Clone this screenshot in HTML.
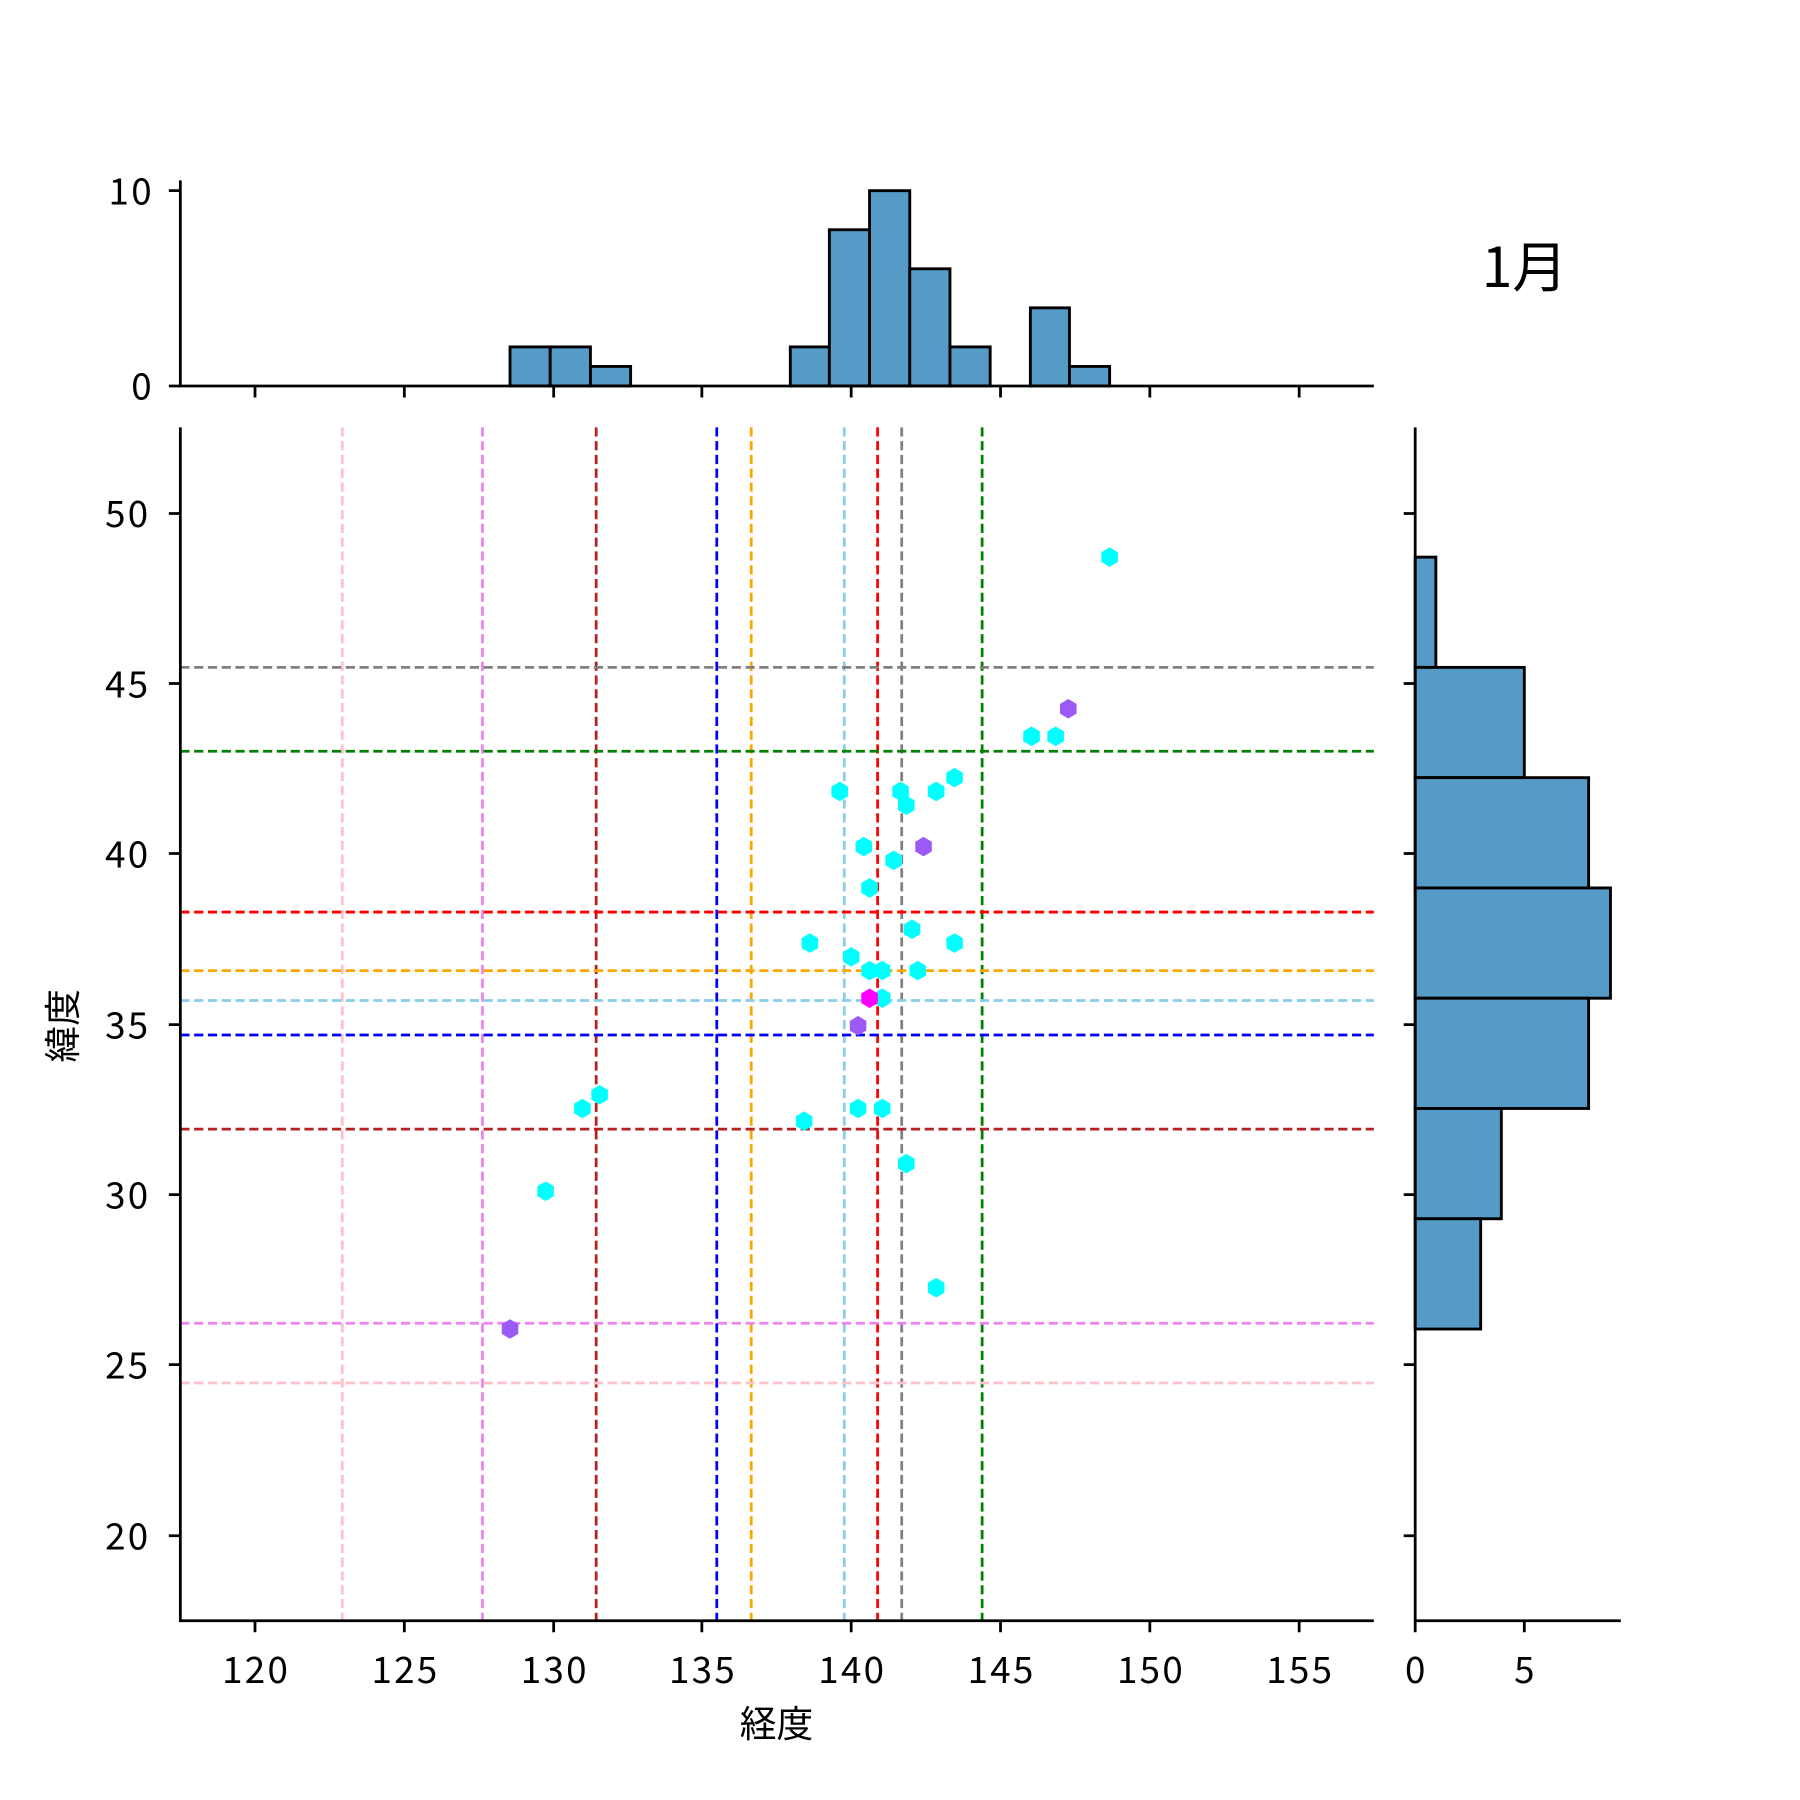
<!DOCTYPE html>
<html><head><meta charset="utf-8"><style>body{margin:0;background:#fff}svg{display:block}text{font-family:"Noto Sans CJK JP","Liberation Sans",sans-serif;fill:#000}.t{letter-spacing:2px}</style></head><body>
<svg width="1800" height="1800" viewBox="0 0 1567 1567" xmlns="http://www.w3.org/2000/svg">
<defs><polygon id="h" points="0,-8.5 7.2,-4.25 7.2,4.25 0,8.5 -7.2,4.25 -7.2,-4.25"/></defs>
<g fill="#569ac7" stroke="#000" stroke-width="2.5">
<rect x="444" y="302" width="35" height="34"/><rect x="479" y="302" width="35" height="34"/><rect x="514" y="319" width="35" height="17"/>
<rect x="688" y="302" width="34" height="34"/><rect x="722" y="200" width="35" height="136"/><rect x="757" y="166" width="35" height="170"/><rect x="792" y="234" width="35" height="102"/><rect x="827" y="302" width="35" height="34"/><rect x="897" y="268" width="34" height="68"/><rect x="931" y="319" width="35" height="17"/>
</g>
<g stroke="#000" stroke-width="2.4" fill="none">
<path d="M157,157V336H1196"/>
<path d="M147,166H157M147,336H157"/>
<path d="M222,336v10M352,336v10M482,336v10M611,336v10M741,336v10M871,336v10M1001,336v10M1131,336v10"/>
</g>
<g font-size="32" text-anchor="end" class="t"><text x="134" y="178">10</text><text x="134" y="348">0</text></g>
<text x="1290" y="250" font-size="48">1月</text>
<g fill="#569ac7" stroke="#000" stroke-width="2.5">
<rect x="1232" y="485" width="18" height="96"/><rect x="1232" y="581" width="95" height="96"/><rect x="1232" y="677" width="151" height="96"/><rect x="1232" y="773" width="170" height="96"/><rect x="1232" y="869" width="151" height="96"/><rect x="1232" y="965" width="75" height="96"/><rect x="1232" y="1061" width="57" height="96"/>
</g>
<g stroke="#000" stroke-width="2.4" fill="none">
<path d="M1232,372V1411H1411"/>
<path d="M1232,1411v10M1327,1411v10"/>
<path d="M1222,447h10M1222,595h10M1222,743h10M1222,892h10M1222,1040h10M1222,1188h10M1222,1337h10"/>
</g>
<g font-size="32" text-anchor="middle"><text x="1232" y="1465">0</text><text x="1327" y="1465">5</text></g>
<g stroke-width="2.4" stroke-dasharray="8,4" fill="none">
<path d="M298,372V1411" stroke="pink"/><path d="M420,372V1411" stroke="violet"/><path d="M519,372V1411" stroke="firebrick"/><path d="M624,372V1411" stroke="blue"/><path d="M654,372V1411" stroke="orange"/><path d="M735,372V1411" stroke="skyblue"/><path d="M764,372V1411" stroke="red"/><path d="M785,372V1411" stroke="gray"/><path d="M855,372V1411" stroke="green"/>
<path d="M157,581H1196" stroke="gray"/><path d="M157,654H1196" stroke="green"/><path d="M157,794H1196" stroke="red"/><path d="M157,845H1196" stroke="orange"/><path d="M157,871H1196" stroke="skyblue"/><path d="M157,901H1196" stroke="blue"/><path d="M157,983H1196" stroke="firebrick"/><path d="M157,1152H1196" stroke="violet"/><path d="M157,1204H1196" stroke="pink"/>
</g>
<g fill="#00ffff">
<use href="#h" x="966" y="485"/><use href="#h" x="898" y="641"/><use href="#h" x="919" y="641"/><use href="#h" x="831" y="677"/><use href="#h" x="731" y="689"/><use href="#h" x="784" y="689"/><use href="#h" x="815" y="689"/><use href="#h" x="789" y="701"/><use href="#h" x="752" y="737"/><use href="#h" x="778" y="749"/><use href="#h" x="757" y="773"/><use href="#h" x="794" y="809"/><use href="#h" x="705" y="821"/><use href="#h" x="831" y="821"/><use href="#h" x="741" y="833"/><use href="#h" x="757" y="845"/><use href="#h" x="768" y="845"/><use href="#h" x="799" y="845"/><use href="#h" x="768" y="869"/><use href="#h" x="522" y="953"/><use href="#h" x="507" y="965"/><use href="#h" x="700" y="976"/><use href="#h" x="747" y="965"/><use href="#h" x="768" y="965"/><use href="#h" x="789" y="1013"/><use href="#h" x="475" y="1037"/><use href="#h" x="815" y="1121"/>
</g>
<g fill="#9b59f5"><use href="#h" x="930" y="617"/><use href="#h" x="804" y="737"/><use href="#h" x="747" y="893"/><use href="#h" x="444" y="1157"/></g>
<use href="#h" x="757" y="869" fill="#ff00ff"/>
<g stroke="#000" stroke-width="2.4" fill="none">
<path d="M157,372V1411H1196"/>
<path d="M222,1411v10M352,1411v10M482,1411v10M611,1411v10M741,1411v10M871,1411v10M1001,1411v10M1131,1411v10"/>
<path d="M147,447h10M147,595h10M147,743h10M147,892h10M147,1040h10M147,1188h10M147,1337h10"/>
</g>
<g font-size="32" text-anchor="middle" class="t"><text x="223" y="1465">120</text><text x="353" y="1465">125</text><text x="483" y="1465">130</text><text x="612" y="1465">135</text><text x="742" y="1465">140</text><text x="872" y="1465">145</text><text x="1002" y="1465">150</text><text x="1132" y="1465">155</text></g>
<g font-size="32" text-anchor="end" class="t"><text x="131" y="459">50</text><text x="131" y="607">45</text><text x="131" y="755">40</text><text x="131" y="904">35</text><text x="131" y="1052">30</text><text x="131" y="1200">25</text><text x="131" y="1349">20</text></g>
<text x="676" y="1512" font-size="32" text-anchor="middle">経度</text>
<text transform="translate(66,893) rotate(-90)" font-size="32" text-anchor="middle">緯度</text>
</svg>
</body></html>
